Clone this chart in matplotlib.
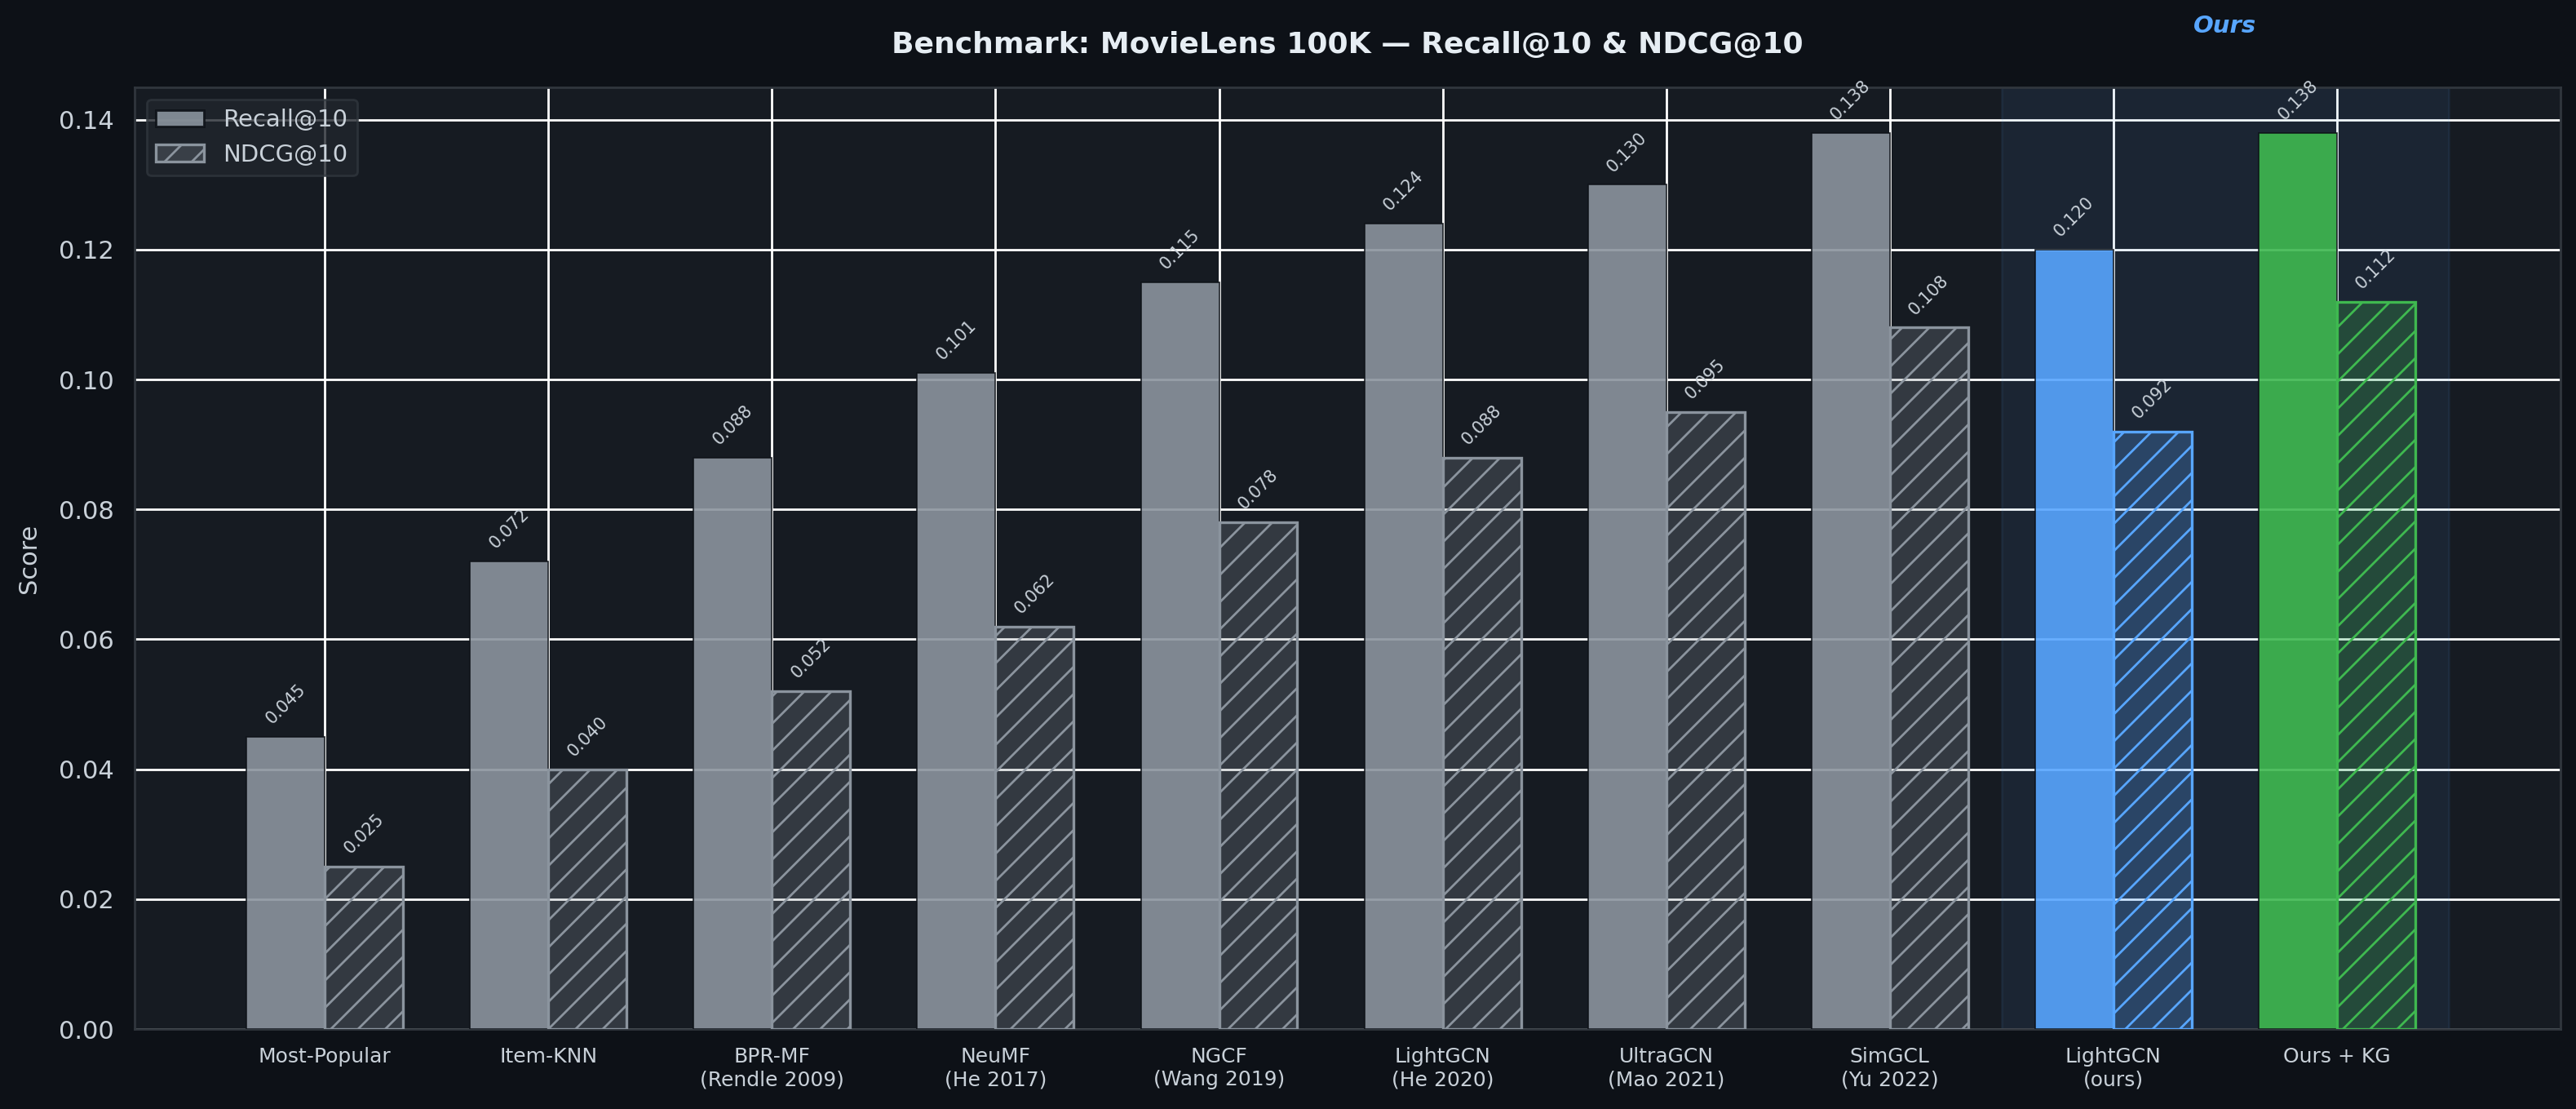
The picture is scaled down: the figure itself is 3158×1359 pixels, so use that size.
import numpy as np
import matplotlib
matplotlib.use("Agg")
import matplotlib.pyplot as plt
from matplotlib.patches import Patch

# data
methods = [
    "Most-Popular", "Item-KNN", "BPR-MF\n(Rendle 2009)", "NeuMF\n(He 2017)",
    "NGCF\n(Wang 2019)", "LightGCN\n(He 2020)", "UltraGCN\n(Mao 2021)",
    "SimGCL\n(Yu 2022)", "LightGCN\n(ours)", "Ours + KG",
]
recall = [0.045, 0.072, 0.088, 0.101, 0.115, 0.124, 0.130, 0.138, 0.120, 0.138]
ndcg = [0.025, 0.040, 0.052, 0.062, 0.078, 0.088, 0.095, 0.108, 0.092, 0.112]
kinds = ["base"] * 8 + ["ours", "ours_kg"]

# =========================
# STYLE
# =========================
BG = "#0d1117"
AX_BG = "#161b22"
TXT = "#c9d1d9"
SPINE = "#30363d"
PALETTE = {"base": "#8b949e", "ours": "#58a6ff", "ours_kg": "#3fb950"}

plt.rcParams["font.family"] = ["DejaVu Sans"]
plt.rcParams["hatch.linewidth"] = 1.0

fig, ax = plt.subplots(figsize=(15.79, 6.795), dpi=200)
fig.patch.set_facecolor(BG)
ax.set_facecolor(AX_BG)
fig.subplots_adjust(left=0.0523, right=0.994, top=0.9213, bottom=0.0721)

x = np.arange(len(methods))
w = 0.35

ax.set_axisbelow(True)
ax.grid(True, color="white", linewidth=1.0)

# highlight for our methods
ax.axvspan(7.5, 9.5, color=PALETTE["ours"], alpha=0.08)

for i in range(len(methods)):
    c = PALETTE[kinds[i]]
    ax.bar(x[i] - w / 2, recall[i], w, color=c, alpha=0.9,
           edgecolor=BG, linewidth=0.6, zorder=3)
    ax.bar(x[i] + w / 2, ndcg[i], w, facecolor=matplotlib.colors.to_rgba(c, 0.25),
           edgecolor=c, linewidth=1.2, hatch="//", zorder=3)
    ax.text(x[i] - w / 2, recall[i] + 0.0015, f"{recall[i]:.3f}", rotation=45,
            ha="center", va="bottom", fontsize=7.5, color=TXT, zorder=4)
    ax.text(x[i] + w / 2, ndcg[i] + 0.0015, f"{ndcg[i]:.3f}", rotation=45,
            ha="center", va="bottom", fontsize=7.5, color=TXT, zorder=4)

ax.text(8.5, 1.065, "Ours", transform=ax.get_xaxis_transform(), ha="center",
        va="center", fontsize=10.5, fontweight="bold", fontstyle="italic",
        color=PALETTE["ours"])

ax.set_xlim(-0.85, 10.0)
ax.set_ylim(0, 0.145)
ax.set_xticks(x)
ax.set_xticklabels(methods, fontsize=9, color=TXT)
ax.tick_params(axis="x", length=0, pad=8)
ax.tick_params(axis="y", length=0, pad=9, labelsize=11, labelcolor=TXT)
ax.set_yticks(np.arange(0, 0.141, 0.02))
ax.yaxis.set_major_formatter(matplotlib.ticker.FormatStrFormatter("%.2f"))
ax.set_ylabel("Score", fontsize=11, color=TXT, labelpad=8)

for s in ax.spines.values():
    s.set_color(SPINE)
    s.set_linewidth(1.0)

ax.set_title("Benchmark: MovieLens 100K \u2014 Recall@10 & NDCG@10",
             fontsize=13, fontweight="bold", color="#e6edf3", pad=15)

handles = [
    Patch(facecolor=PALETTE["base"], alpha=0.9, edgecolor=BG, label="Recall@10"),
    Patch(facecolor=matplotlib.colors.to_rgba(PALETTE["base"], 0.25),
          edgecolor=PALETTE["base"], hatch="//", linewidth=1.2, label="NDCG@10"),
]
leg = ax.legend(handles=handles, loc="upper left", fontsize=10.5,
                facecolor="#21262d", edgecolor=SPINE, framealpha=0.8)
for t in leg.get_texts():
    t.set_color(TXT)

fig.savefig("out.png", dpi=200, facecolor=BG)
